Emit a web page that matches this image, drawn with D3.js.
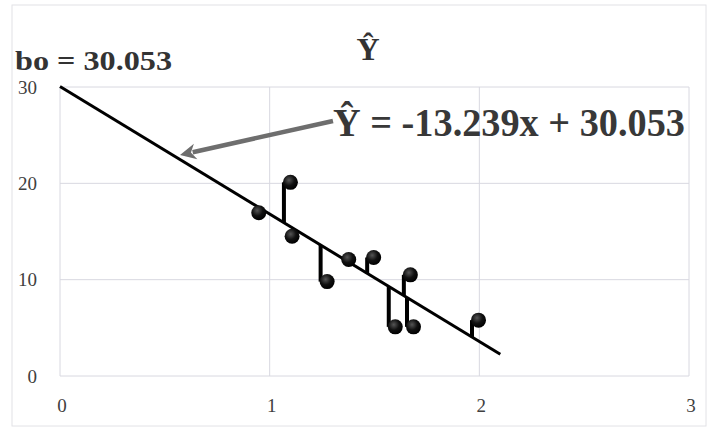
<!DOCTYPE html>
<html>
<head>
<meta charset="utf-8">
<script src="https://cdn.jsdelivr.net/npm/d3@7"></script>
<style>
  body { margin: 0; background: #fff; }
  text { font-family: 'Liberation Serif', 'DejaVu Serif', serif; }
</style>
</head>
<body>
<script>
// observed points
var xs = [0.948, 1.099, 1.107, 1.274, 1.377, 1.496, 1.671, 1.599, 1.686, 1.996]
var ys = [16.95, 20.1, 14.5, 9.8, 12.1, 12.3, 10.5, 5.1, 5.1, 5.8]
// which points get a residual stem
var hasStem = [false, true, false, true, false, true, true, true, true, true]
var slope = -13.239
var intercept = 30.053
var lineEnd = 2.1
var xTicks = [0, 1, 2, 3]
var yTicks = [0, 10, 20, 30]

var W = 717, H = 432
var margin = {top: 87, right: 28, bottom: 56, left: 60}
var width = 689 - margin.left
var height = 376 - margin.top

var x = d3.scaleLinear().domain([0, 3]).range([0, width])
var y = d3.scaleLinear().domain([0, 30]).range([height, 0])

var svg = d3.select('body').append('svg')
  .attr('width', W)
  .attr('height', H)

// outer chart border
svg.append('rect')
  .attr('x', 12).attr('y', 5)
  .attr('width', 694).attr('height', 421)
  .attr('fill', 'none')
  .attr('stroke', '#e2e2e6')

var defs = svg.append('defs')
var grad = defs.append('radialGradient').attr('id', 'ball')
  .attr('cx', '40%').attr('cy', '35%').attr('r', '65%')
grad.append('stop').attr('offset', '0%').attr('stop-color', '#555')
grad.append('stop').attr('offset', '55%').attr('stop-color', '#111')
grad.append('stop').attr('offset', '100%').attr('stop-color', '#000')

var g = svg.append('g')
  .attr('transform', `translate(${margin.left}, ${margin.top})`)

// grid
g.selectAll('.hgrid').data(yTicks).enter().append('line')
  .attr('x1', 0).attr('x2', width)
  .attr('y1', d => y(d)).attr('y2', d => y(d))
  .attr('stroke', '#d8d8e0').attr('stroke-width', 1)
g.selectAll('.vgrid').data(xTicks).enter().append('line')
  .attr('y1', 0).attr('y2', height)
  .attr('x1', d => x(d)).attr('x2', d => x(d))
  .attr('stroke', '#d8d8e0').attr('stroke-width', 1)

// tick labels
g.selectAll('.ylab').data(yTicks).enter().append('text')
  .attr('x', -23).attr('y', d => y(d)).attr('dy', '0.35em')
  .attr('text-anchor', 'end')
  .attr('font-size', 19).attr('fill', '#404040')
  .text(d => d)
g.selectAll('.xlab').data(xTicks).enter().append('text')
  .attr('x', d => x(d) + 2).attr('y', height + 36)
  .attr('text-anchor', 'middle')
  .attr('font-size', 19).attr('fill', '#404040')
  .text(d => d)

// residual stems
var stemOff = 6.5
g.selectAll('.stem').data(xs.map((d, i) => i).filter(i => hasStem[i])).enter().append('line')
  .attr('x1', i => x(xs[i]) - stemOff).attr('x2', i => x(xs[i]) - stemOff)
  .attr('y1', i => y(ys[i])).attr('y2', i => y(intercept + slope * (xs[i] - stemOff / x(1))))
  .attr('stroke', '#000').attr('stroke-width', 4)

// regression line
g.append('line')
  .attr('x1', x(0)).attr('y1', y(intercept))
  .attr('x2', x(lineEnd)).attr('y2', y(intercept + slope * lineEnd))
  .attr('stroke', '#000').attr('stroke-width', 3)

// points
g.selectAll('.dot').data(xs).enter().append('circle')
  .attr('cx', (d, i) => x(d)).attr('cy', (d, i) => y(ys[i]))
  .attr('r', 7.5)
  .attr('fill', 'url(#ball)')

// arrow
var a0 = [333, 121], a1 = [180, 155]
var dx = a1[0] - a0[0], dy = a1[1] - a0[1], len = Math.hypot(dx, dy)
var ux = dx / len, uy = dy / len
var hl = 16, hw = 8
var bx = a1[0] - ux * hl, by = a1[1] - uy * hl
svg.append('line')
  .attr('x1', a0[0]).attr('y1', a0[1])
  .attr('x2', bx + ux * 3).attr('y2', by + uy * 3)
  .attr('stroke', '#6e6e6e').attr('stroke-width', 4.5)
svg.append('path')
  .attr('d', d3.line()([
    a1,
    [bx - uy * hw, by + ux * hw],
    [a1[0] - ux * hl * 0.7, a1[1] - uy * hl * 0.7],
    [bx + uy * hw, by - ux * hw]
  ]) + 'Z')
  .attr('fill', '#6e6e6e')

// texts
svg.append('text')
  .attr('x', 368).attr('y', 60)
  .attr('text-anchor', 'middle')
  .attr('font-size', 32).attr('font-weight', 'bold').attr('fill', '#333')
  .text('Ŷ')
svg.append('text')
  .attr('x', 15).attr('y', 70)
  .attr('font-size', 28).attr('font-weight', 'bold').attr('fill', '#333')
  .attr('textLength', 157).attr('lengthAdjust', 'spacingAndGlyphs')
  .text('bo = 30.053')
svg.append('text')
  .attr('x', 333).attr('y', 136)
  .attr('font-size', 41).attr('font-weight', 'bold').attr('fill', '#383838')
  .attr('textLength', 352).attr('lengthAdjust', 'spacingAndGlyphs')
  .text('Ŷ = -13.239x + 30.053')
</script>
</body>
</html>
